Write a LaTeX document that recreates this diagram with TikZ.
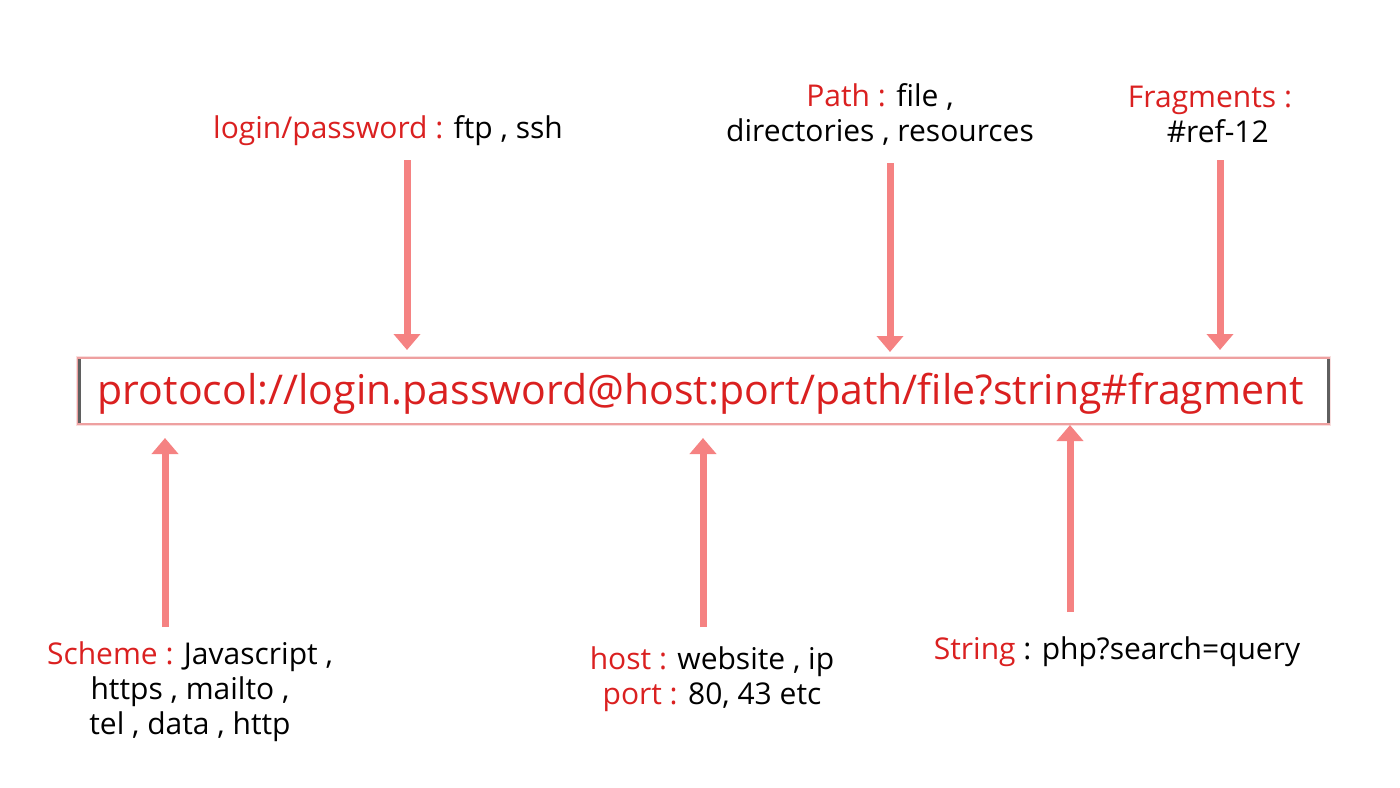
\documentclass[tikz,border=0pt]{standalone}
\usepackage{fontspec}
\setmainfont{Open Sans}
\usetikzlibrary{arrows.meta,calc}
\definecolor{urlred}{RGB}{218,32,32}
\definecolor{arrowpink}{RGB}{245,130,130}
\definecolor{boxpink}{RGB}{238,160,160}
\definecolor{edgegray}{RGB}{95,95,95}
\tikzset{
  lbl/.style={font=\fontsize{30}{35}\selectfont, text=black, align=center, inner sep=0pt},
  ptr/.style={draw=arrowpink, line width=7pt, -{Triangle[width=26pt,length=16pt]}},
}
\newcommand{\rd}[1]{\textcolor{urlred}{#1}}
\begin{document}
\begin{tikzpicture}[x=1pt,y=-1pt]
\useasboundingbox (0,0) rectangle (1400,787);
% URL box
\fill[boxpink!35] (76,356) rectangle (1331,426);
\fill[white] (79,359) rectangle (1328,423);
\draw[boxpink, line width=1.2pt] (78,358) rectangle (1329,424);
\draw[edgegray, line width=3pt] (79,359) -- (79,423);
\draw[edgegray, line width=3pt] (1328,359) -- (1328,423);
\node[inner sep=0pt, anchor=center] (url) at (701,394)
  {\fontsize{41}{48}\selectfont\rd{protocol://login.password@host:port/path/file?string\#fragment}};
\coordinate (boxtop) at (700,358);
\coordinate (boxbot) at (700,424);
% top labels
\node[lbl] (login) at (388,131) {\rd{login/password :} ftp , ssh};
\node[lbl] (path) at (880,114) {\rd{Path :} file ,\\directories , resources};
\node[lbl] (frag) at (1210,114) {\rd{Fragments :}\\\ \ \#ref-12};
% bottom labels
\node[lbl] (scheme) at (190,692) {\rd{Scheme :} Javascript ,\\https , mailto ,\\tel , data , http};
\node[lbl] (host) at (712,679) {\rd{host :} website , ip\\\rd{port :} 80, 43 etc};
\node[lbl] (string) at (1117,652) {\rd{String} : php?search=query};
% arrows from labels to box
\coordinate (t1) at (407,160);
\coordinate (t2) at (890,163);
\coordinate (t3) at (1220,160);
\coordinate (b1) at (165,627);
\coordinate (b2) at (703,627);
\coordinate (b3) at (1070,612);
\draw[ptr] (t1) -- ($(t1 |- boxtop)+(0,-8)$);
\draw[ptr] (t2) -- ($(t2 |- boxtop)+(0,-6)$);
\draw[ptr] (t3) -- ($(t3 |- boxtop)+(0,-8)$);
\draw[ptr] (b1) -- ($(b1 |- boxbot)+(0,14)$);
\draw[ptr] (b2) -- ($(b2 |- boxbot)+(0,14)$);
\draw[ptr] (b3) -- ($(b3 |- boxbot)+(0,1)$);
\end{tikzpicture}
\end{document}
